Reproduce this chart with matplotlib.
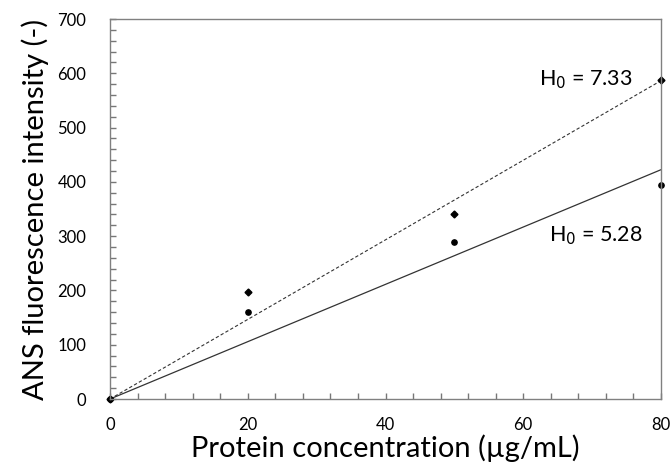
import matplotlib
matplotlib.use("Agg")
import matplotlib.pyplot as plt
from matplotlib.ticker import MultipleLocator

plt.rcParams['font.family'] = ['Lato', 'DejaVu Sans']

conc = [0, 20, 50, 80]
intensity_high = [0, 198, 340, 588]
intensity_low = [0, 160, 290, 395]
slope_high = 7.33
slope_low = 5.28
fit_x = [0, 80]

fig = plt.figure(figsize=(6.71, 4.70), dpi=100)
ax = fig.add_axes([110/671, 1-399/470, (661-110)/671, (399-19)/470])

ax.plot(fit_x, [slope_high*v for v in fit_x], linestyle=(0, (3, 2)), color='#333333', lw=0.8)
ax.plot(fit_x, [slope_low*v for v in fit_x], linestyle='-', color='#333333', lw=0.9)
ax.plot(conc, intensity_high, 'D', color='black', ms=3.5, clip_on=False)
ax.plot(conc, intensity_low, 'o', color='black', ms=3.8, clip_on=False)

ax.set_xlim(0, 80)
ax.set_ylim(0, 700)
ax.xaxis.set_major_locator(MultipleLocator(20))
ax.xaxis.set_minor_locator(MultipleLocator(4))
ax.yaxis.set_major_locator(MultipleLocator(100))
ax.yaxis.set_minor_locator(MultipleLocator(20))
ax.tick_params(which='both', direction='in', colors='#777777', labelcolor='black',
               labelsize=12, length=4, width=1)
ax.tick_params(axis='x', pad=13)
ax.tick_params(axis='y', pad=17)
for s in ax.spines.values():
    s.set_color('#808080')
    s.set_linewidth(1.0)

ax.set_xlabel('Protein concentration (µg/mL)', fontsize=21, labelpad=1)
ax.set_ylabel('ANS fluorescence intensity (-)', fontsize=21, labelpad=6)

ax.text(62.3, 588, 'H$_0$ = 7.33', fontsize=15.5, va='center', ha='left')
ax.text(63.7, 300, 'H$_0$ = 5.28', fontsize=15.5, va='center', ha='left')

fig.savefig('out.png', dpi=100)
